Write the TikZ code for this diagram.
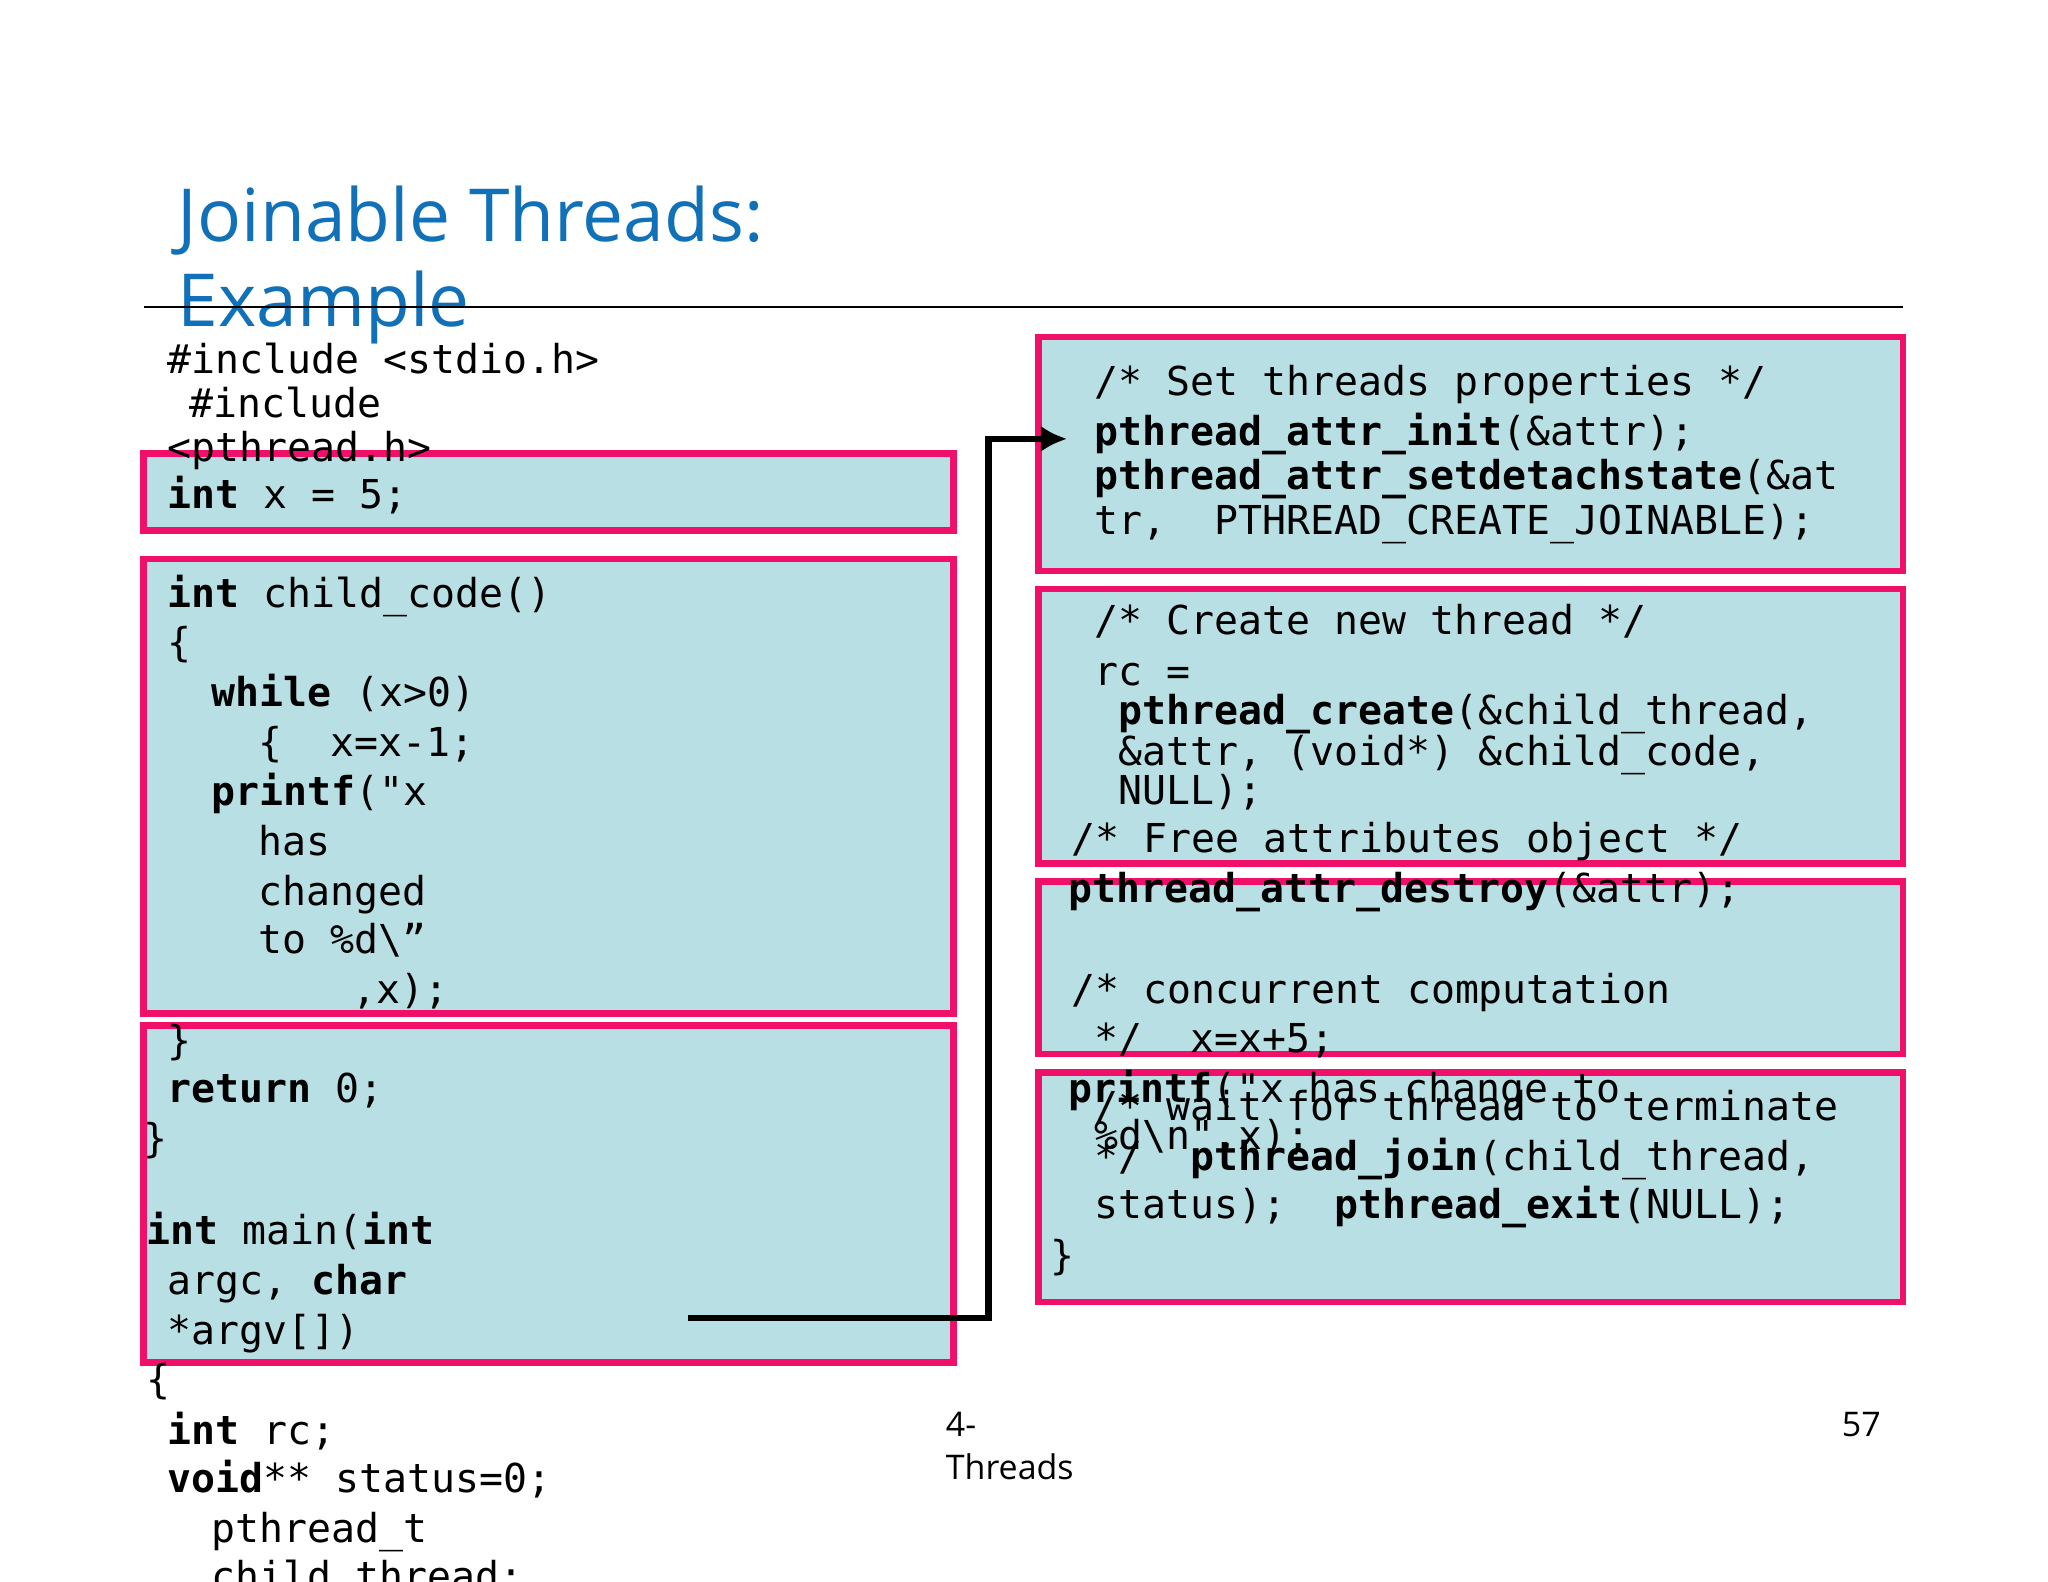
\documentclass[tikz,border=0pt]{standalone}
\usepackage{fontspec}
\usetikzlibrary{arrows.meta}
\setmainfont{Open Sans}
\newfontfamily\codefont{DejaVu Sans Mono}
\definecolor{boxfill}{HTML}{B8DFE3}
\definecolor{boxline}{HTML}{F0106A}
\definecolor{titleblue}{HTML}{1070B8}
\begin{document}
\begin{tikzpicture}[x=1pt,y=-1pt,
  cbox/.style={draw=boxline,fill=boxfill,line width=5pt},
  code/.style={anchor=base west,inner sep=0pt,font=\codefont\fontsize{30.5}{38}\selectfont},
  ttl/.style={anchor=base west,inner sep=0pt,text=titleblue,font=\fontsize{56}{60}\selectfont},
  foot/.style={anchor=base west,inner sep=0pt,font=\fontsize{26}{30}\selectfont}]
\useasboundingbox[fill=white] (0,0) rectangle (1568,1211);
\newcommand\Ln[4]{\node[code] (#1) at (#2,#3+11) {#4};}
% boxes
\draw[cbox] (110,347) rectangle (730,406);
\draw[cbox] (110,428) rectangle (730,776);
\draw[cbox] (110,785) rectangle (730,1043);
\draw[cbox] (795,258) rectangle (1457,437);
\draw[cbox] (795,451) rectangle (1457,661);
\draw[cbox] (795,675) rectangle (1457,807);
\draw[cbox] (795,821) rectangle (1457,997);
% title
\node[ttl] (t1) at (136,185) {Joinable Threads:};
\node[ttl] (t2) at (136,250) {Example};
\coordinate (hl) at (110,235); \coordinate (hr) at (1457,235);
\draw[line width=1.5pt] (hl) -- (hr);
% left code
\Ln{a1}{128}{275}{\#include <stdio.h>}
\Ln{a2}{145}{309}{\#include}
\Ln{a3}{128}{342}{<pthread.h>}
\Ln{a4}{128}{378}{\textbf{int} x = 5;}
\Ln{a5}{128}{454}{\textbf{int} child\_code()}
\Ln{a6}{128}{492}{\{}
\Ln{a7}{162}{530}{\textbf{while} (x>0)}
\Ln{a8}{198}{568}{\{\ \ x=x-1;}
\Ln{a9}{162}{606}{\textbf{printf}("x}
\Ln{a10}{198}{644}{has}
\Ln{a11}{198}{682}{changed}
\Ln{a12}{198}{719}{to \%d\textbackslash ”}
\Ln{a13}{270}{757}{,x);}
\Ln{a14}{128}{796}{\}}
\Ln{a15}{128}{833}{\textbf{return} 0;}
\Ln{a16}{110}{871}{\}}
\Ln{a17}{112}{942}{\textbf{int} main(\textbf{int}}
\Ln{a18}{128}{980}{argc, \textbf{char}}
\Ln{a19}{128}{1018}{*argv[])}
\Ln{a20}{112}{1056}{\{}
\Ln{a21}{128}{1095}{\textbf{int} rc;}
\Ln{a22}{128}{1132}{\textbf{void}** status=0;}
\Ln{a23}{162}{1170}{pthread\_t}
\Ln{a24}{162}{1207}{child\_thread;}
% right code
\Ln{b1}{838}{292}{/* Set threads properties */}
\Ln{b2}{838}{330}{\textbf{pthread\_attr\_init}(\&attr);}
\Ln{b3}{838}{364}{\textbf{pthread\_attr\_setdetachstate}(\&at}
\Ln{b4}{838}{398}{tr,\ \ PTHREAD\_CREATE\_JOINABLE);}
\Ln{b5}{838}{475}{/* Create new thread */}
\Ln{b6}{838}{514}{rc =}
\Ln{b7}{856}{544}{\textbf{pthread\_create}(\&child\_thread,}
\Ln{b8}{856}{575}{\&attr, (void*) \&child\_code,}
\Ln{b9}{856}{605}{NULL);}
\Ln{b10}{820}{642}{/* Free attributes object */}
\Ln{b11}{818}{680}{\textbf{pthread\_attr\_destroy}(\&attr);}
\Ln{b12}{820}{757}{/* concurrent computation}
\Ln{b13}{838}{795}{*/\ \ x=x+5;}
\Ln{b14}{818}{833}{\textbf{printf}("x has change to}
\Ln{b15}{838}{869}{\%d\textbackslash n",x);}
\Ln{b16}{838}{847}{/* wait for thread to terminate}
\Ln{b17}{838}{885}{*/\ \ \textbf{pthread\_join}(child\_thread,}
\Ln{b18}{838}{922}{status);\ \ \textbf{pthread\_exit}(NULL);}
\Ln{b19}{804}{961}{\}}
% footer
\node[foot] (f1) at (724,1100) {4-};
\node[foot] (f2) at (724,1133) {Threads};
\node[foot] (f3) at (1410,1100) {57};
% arrow
\coordinate (s) at (527,1009); \coordinate (e) at (817,336);
\draw[line width=5pt,-{Latex[length=20pt,width=20pt]}] (s) -- (757,1009) -- (757,336) -- (e);
\end{tikzpicture}
\end{document}
